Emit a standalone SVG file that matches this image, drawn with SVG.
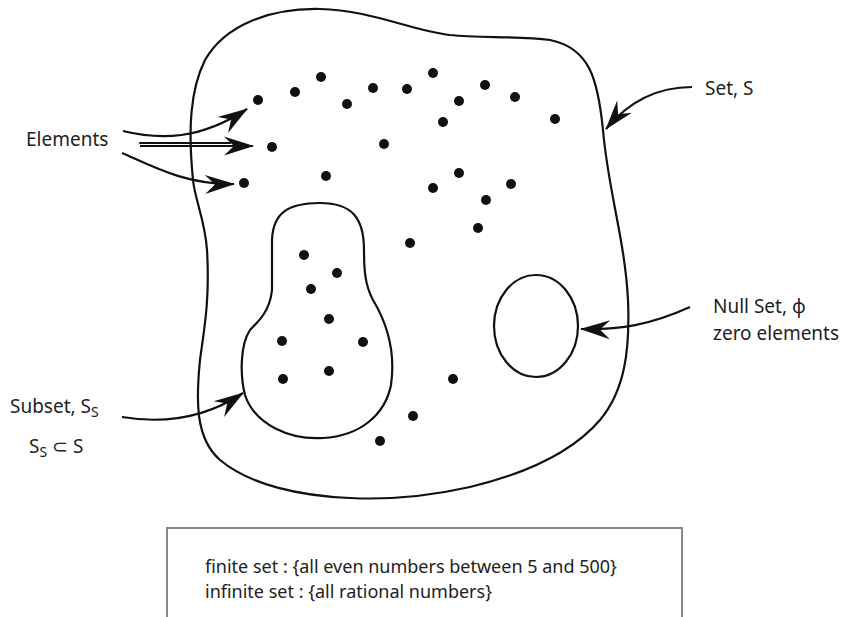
<svg xmlns="http://www.w3.org/2000/svg" width="849" height="617" viewBox="0 0 849 617">
<style>
.ln{fill:none;stroke:#111;stroke-width:2.2;stroke-linecap:round}
.ar{fill:none;stroke:#111;stroke-width:2.2;marker-end:url(#ah)}
.dot{fill:#111}
text{font-family:"Noto Sans","DejaVu Sans",sans-serif;fill:#222;font-size:19px}
.box{fill:none;stroke:#888;stroke-width:2}
.lg{font-size:18px}
</style>
<defs>
<marker id="ah" viewBox="-30 -10 32 20" refX="0" refY="0" markerWidth="32" markerHeight="20" markerUnits="userSpaceOnUse" orient="auto">
<path d="M1,0 L-29,-9.5 L-19,0 L-29,9.5 Z" fill="#111"/>
</marker>
</defs>
<rect width="849" height="617" fill="#fff"/>

<g id="setS">
<path class="ln" d="M193,180 C188,130 190,90 205,60 C225,25 270,8 320,9 C370,10 410,30 450,35 C480,38 520,36 550,40 C590,48 598,80 603,130 C608,190 625,240 628,300 C630,350 625,390 600,420 C570,455 520,475 470,487 C430,496 390,500 350,498 C300,496 250,485 220,460 C195,438 196,400 200,360 C204,330 210,300 207,250 C205,220 195,200 193,180 Z"/>
</g>
<g id="subset">
<path class="ln" d="M320,203 C288,203 273,213 272,240 L272,290 C270,310 260,320 250,330 C240,345 240,375 245,395 C255,425 290,440 323,438 C360,436 385,415 391,385 C396,350 385,320 373,300 C365,285 364,270 364,250 C364,218 352,203 320,203 Z"/>
</g>
<g id="nullset">
<ellipse class="ln" cx="536" cy="326" rx="42" ry="51"/>
</g>

<g id="elements">
<circle class="dot" cx="258" cy="100" r="5"/>
<circle class="dot" cx="295" cy="92" r="5"/>
<circle class="dot" cx="321" cy="77" r="5"/>
<circle class="dot" cx="347" cy="104" r="5"/>
<circle class="dot" cx="373" cy="88" r="5"/>
<circle class="dot" cx="407" cy="89" r="5"/>
<circle class="dot" cx="433" cy="73" r="5"/>
<circle class="dot" cx="459" cy="101" r="5"/>
<circle class="dot" cx="485" cy="85" r="5"/>
<circle class="dot" cx="515" cy="97" r="5"/>
<circle class="dot" cx="555" cy="119" r="5"/>
<circle class="dot" cx="443" cy="122" r="5"/>
<circle class="dot" cx="272" cy="147" r="5"/>
<circle class="dot" cx="384" cy="144" r="5"/>
<circle class="dot" cx="244" cy="183" r="5"/>
<circle class="dot" cx="326" cy="176" r="5"/>
<circle class="dot" cx="459" cy="173" r="5"/>
<circle class="dot" cx="433" cy="188" r="5"/>
<circle class="dot" cx="511" cy="184" r="5"/>
<circle class="dot" cx="486" cy="200" r="5"/>
<circle class="dot" cx="478" cy="228" r="5"/>
<circle class="dot" cx="410" cy="243" r="5"/>
<circle class="dot" cx="304" cy="255" r="5"/>
<circle class="dot" cx="337" cy="273" r="5"/>
<circle class="dot" cx="311" cy="289" r="5"/>
<circle class="dot" cx="329" cy="319" r="5"/>
<circle class="dot" cx="282" cy="341" r="5"/>
<circle class="dot" cx="363" cy="342" r="5"/>
<circle class="dot" cx="283" cy="379" r="5"/>
<circle class="dot" cx="329" cy="371" r="5"/>
<circle class="dot" cx="453" cy="379" r="5"/>
<circle class="dot" cx="413" cy="416" r="5"/>
<circle class="dot" cx="380" cy="441" r="5"/>
</g>

<g id="connectors">
<path class="ar" d="M123,131 C160,140 200,140 247,109"/>
<path class="ln" d="M140,143 H230"/>
<path class="ar" d="M140,146 H253"/>
<path class="ar" d="M122,153 C150,165 185,185 234,184"/>
<path class="ar" d="M692,87 C660,87 630,100 606,129"/>
<path class="ar" d="M690,307 C650,325 620,330 581,329"/>
<path class="ar" d="M122,417 C170,425 210,415 243,393"/>
</g>

<g id="labels">
<text x="26" y="146">Elements</text>
<text x="705" y="95">Set, S</text>
<text x="713" y="313">Null Set, ϕ</text>
<text x="713" y="340">zero elements</text>
<text x="10" y="413">Subset, S<tspan font-size="14" dy="4">S</tspan></text>
<text x="29" y="453">S<tspan font-size="14" dy="4">S</tspan><tspan dy="-4"> ⊂ S</tspan></text>
</g>

<g id="legend">
<path class="box" d="M167,617 V528 H682 V617"/>
<text class="lg" x="205" y="573">finite set : {all even numbers between 5 and 500}</text>
<text class="lg" x="205" y="598">infinite set : {all rational numbers}</text>
</g>
</svg>
